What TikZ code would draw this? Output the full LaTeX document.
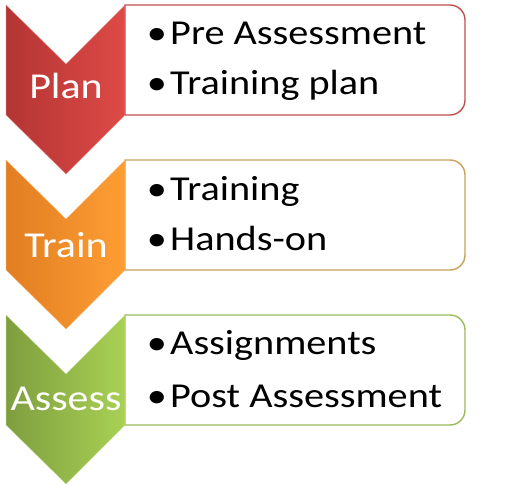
\documentclass[tikz,border=0pt]{standalone}
\usepackage{fontspec}
\setmainfont{Carlito}[FakeStretch=1.15]
\definecolor{redL}{HTML}{B33533}
\definecolor{redR}{HTML}{DE4A47}
\definecolor{redB}{HTML}{C0504D}
\definecolor{orL}{HTML}{E07E22}
\definecolor{orR}{HTML}{FF9D34}
\definecolor{orB}{HTML}{C9A05A}
\definecolor{grL}{HTML}{7E9E3F}
\definecolor{grR}{HTML}{A9D154}
\definecolor{grB}{HTML}{9BBB59}
\tikzset{
  lab/.style={inner sep=0pt, text=white, font=\fontsize{36.5}{42}\selectfont},
  item/.style={inner sep=0pt, text=black, font=\fontsize{35}{40}\selectfont},
  boxline/.style={line width=1.4pt, fill=white},
  bevel/.style={line width=0.6pt, draw opacity=0.6}
}
\begin{document}
\begin{tikzpicture}[x=1pt,y=-1pt]
\useasboundingbox (0,0) rectangle (522,487);
% stage 1
\draw[boxline, draw=redB] (125,5) -- (450,5) arc[start angle=-90, end angle=0, radius=15] -- (465,100) arc[start angle=0, end angle=90, radius=15] -- (125,115) -- cycle;
\shade[left color=redL, right color=redR] (6,5) -- (66,64) -- (125,5) -- (125,115) -- (66,174) -- (6,115) -- cycle;
\draw[bevel, draw=redR!60!white] (6,5) -- (66,64) -- (125,5) -- (125,115) -- (66,174) -- (6,115) -- cycle;
\node[lab, anchor=base] (plan) at (66,98) {Plan};
\node[item, anchor=base] (b11) at (157,45) {•};
\node[item, anchor=base west] (t11) at (170,45) {Pre Assessment};
\node[item, anchor=base] (b12) at (157,94) {•};
\node[item, anchor=base west] (t12) at (170,94) {Training plan};
% stage 2
\draw[boxline, draw=orB] (125,160) -- (450,160) arc[start angle=-90, end angle=0, radius=15] -- (465,255) arc[start angle=0, end angle=90, radius=15] -- (125,270) -- cycle;
\shade[left color=orL, right color=orR] (6,160) -- (66,219) -- (125,160) -- (125,270) -- (66,329) -- (6,270) -- cycle;
\draw[bevel, draw=orR!60!white] (6,160) -- (66,219) -- (125,160) -- (125,270) -- (66,329) -- (6,270) -- cycle;
\node[lab, anchor=base] (train) at (66,257) {Train};
\node[item, anchor=base] (b21) at (157,200) {•};
\node[item, anchor=base west] (t21) at (170,200) {Training};
\node[item, anchor=base] (b22) at (157,250) {•};
\node[item, anchor=base west] (t22) at (170,250) {Hands-on};
% stage 3
\draw[boxline, draw=grB] (125,315) -- (450,315) arc[start angle=-90, end angle=0, radius=15] -- (465,410) arc[start angle=0, end angle=90, radius=15] -- (125,425) -- cycle;
\shade[left color=grL, right color=grR] (6,315) -- (66,374) -- (125,315) -- (125,425) -- (66,484) -- (6,425) -- cycle;
\draw[bevel, draw=grR!60!white] (6,315) -- (66,374) -- (125,315) -- (125,425) -- (66,484) -- (6,425) -- cycle;
\node[lab, anchor=base] (assess) at (66,410) {Assess};
\node[item, anchor=base] (b31) at (157,354) {•};
\node[item, anchor=base west] (t31) at (170,354) {Assignments};
\node[item, anchor=base] (b32) at (157,407) {•};
\node[item, anchor=base west] (t32) at (170,407) {Post Assessment};
\end{tikzpicture}
\end{document}
